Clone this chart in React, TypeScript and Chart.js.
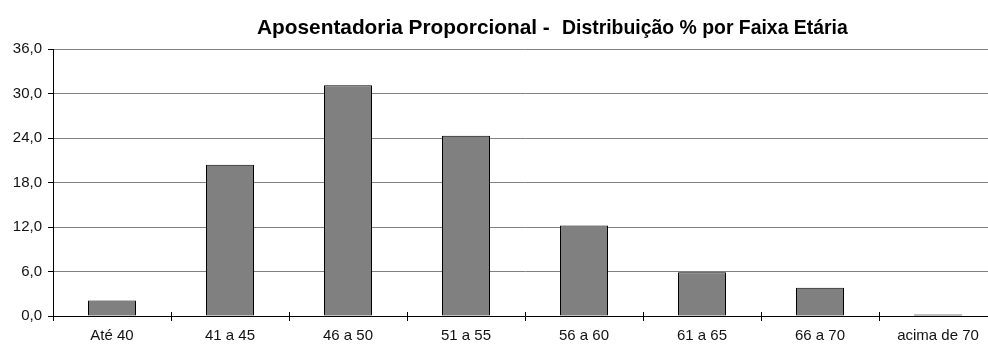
import React, { useEffect, useRef } from "react";
import { Chart, registerables } from "chart.js";

Chart.register(...registerables);

const categories = ["Até 40", "41 a 45", "46 a 50", "51 a 55", "56 a 60", "61 a 65", "66 a 70", "acima de 70"];
const values = [2.1, 20.4, 31.1, 24.3, 12.2, 5.9, 3.8, 0.2];
const titleMain = "Aposentadoria Proporcional -";
const titleSub = "Distribuição % por Faixa Etária";
const yMin = 0;
const yMax = 36;
const yStep = 6;

const FONT = "'Liberation Sans', Arial, sans-serif";

const titlePlugin = {
  id: "mixedTitle",
  afterDraw(chart: any) {
    const ctx = chart.ctx;
    ctx.save();
    ctx.fillStyle = "#000";
    ctx.textBaseline = "alphabetic";
    ctx.textAlign = "left";
    const drawFit = (text: string, x: number, width: number) => {
      ctx.font = `bold 10px ${FONT}`;
      const w = ctx.measureText(text).width;
      const size = (10 * width) / w;
      ctx.font = `bold ${size}px ${FONT}`;
      ctx.fillText(text, x, 34);
    };
    drawFit(titleMain, 257, 293);
    drawFit(titleSub, 562, 286);
    ctx.restore();
  },
};

const crossTicksPlugin = {
  id: "crossTicks",
  afterDraw(chart: any) {
    const ctx = chart.ctx;
    const x = chart.scales.x;
    const bottom = chart.chartArea.bottom;
    ctx.save();
    ctx.strokeStyle = "#000";
    ctx.lineWidth = 1;
    for (let i = 1; i < categories.length; i++) {
      const px = Math.round((x.getPixelForValue(i - 1) + x.getPixelForValue(i)) / 2) + 0.5;
      ctx.beginPath();
      ctx.moveTo(px, bottom - 4);
      ctx.lineTo(px, bottom);
      ctx.stroke();
    }
    ctx.restore();
  },
};

export default function App() {
  const ref = useRef<HTMLCanvasElement | null>(null);
  useEffect(() => {
    if (!ref.current) return;
    const chart = new Chart(ref.current, {
      type: "bar",
      data: {
        labels: categories,
        datasets: [
          {
            data: values,
            backgroundColor: "#808080",
            borderColor: "#000000",
            borderWidth: 1,
            borderSkipped: false,
            categoryPercentage: 1,
            barPercentage: 48 / 118,
          },
        ],
      },
      options: {
        animation: false,
        responsive: false,
        maintainAspectRatio: false,
        devicePixelRatio: 1,
        layout: { padding: { left: 0, top: 49, right: 3, bottom: 0 } },
        plugins: { legend: { display: false }, title: { display: false }, tooltip: { enabled: false } },
        scales: {
          x: {
            afterFit(scale: any) {
              scale.height = 29;
            },
            grid: { drawOnChartArea: false, offset: true, tickLength: 5, color: "#000", tickColor: "#000" },
            border: { color: "#000", width: 1 },
            ticks: { color: "#111", font: { family: FONT, size: 15 }, padding: 6, maxRotation: 0, autoSkip: false },
          },
          y: {
            min: yMin,
            max: yMax,
            afterFit(scale: any) {
              scale.width = 53;
            },
            grid: { color: "#808080", lineWidth: 1, tickLength: 5, tickColor: "#000" },
            border: { color: "#000", width: 1 },
            ticks: {
              stepSize: yStep,
              color: "#111",
              padding: 6,
              font: { family: FONT, size: 15 },
              callback: (v: any) => Number(v).toFixed(1).replace(".", ","),
            },
          },
        },
      },
      plugins: [titlePlugin, crossTicksPlugin],
    });
    return () => chart.destroy();
  }, []);
  return (
    <div style={{ position: "fixed", left: 0, top: 0, width: 988, height: 345, overflow: "hidden", background: "#fff" }}>
      <canvas ref={ref} width={1000} height={345} style={{ display: "block", width: 1000, height: 345 }} />
    </div>
  );
}
